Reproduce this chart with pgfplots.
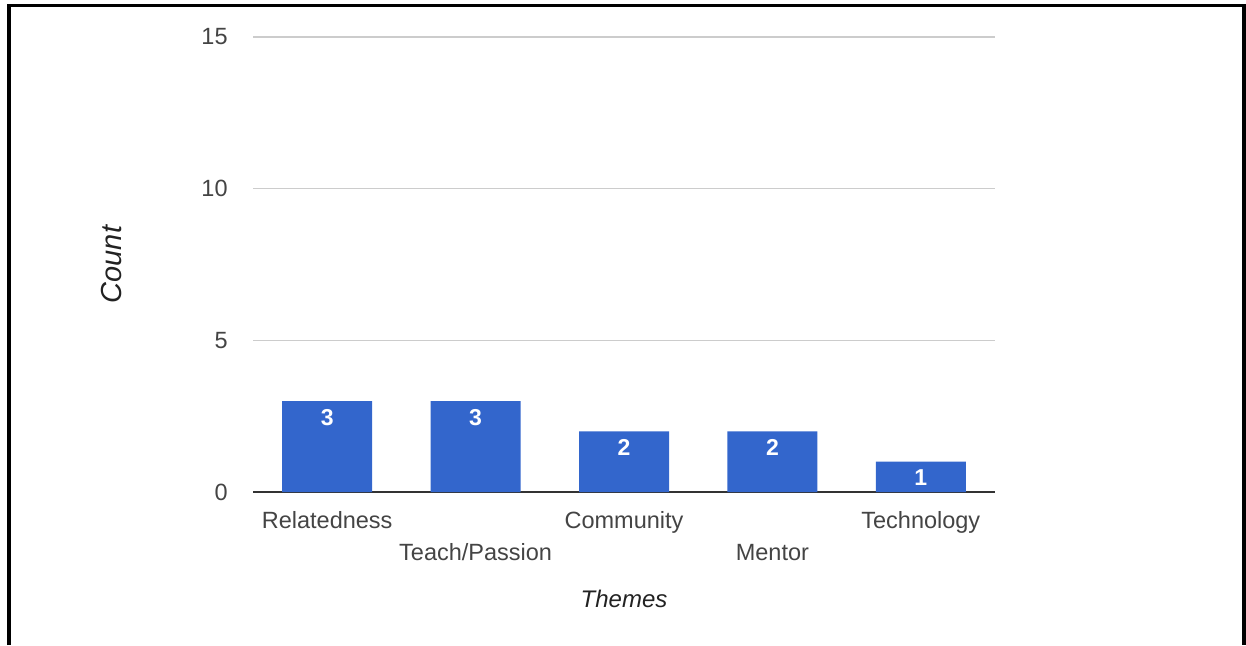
\documentclass[border=0pt]{standalone}
\usepackage{fontspec}
\setmainfont{Liberation Sans}
\usepackage{pgfplots}
\pgfplotsset{compat=1.18}
\definecolor{barblue}{HTML}{3366CC}
\definecolor{gridgray}{HTML}{CCCCCC}
\definecolor{ticklab}{HTML}{444444}
\definecolor{axisline}{HTML}{333333}
\definecolor{titlecol}{HTML}{222222}
\begin{document}
\begin{tikzpicture}
\useasboundingbox (0,0) rectangle (623pt,322.5pt);
\draw[line width=1.65pt] (4.5pt,0) -- (4.5pt,319.65pt) -- (622pt,319.65pt) -- (622pt,0);
\begin{axis}[
  at={(126.5pt,76.5pt)}, anchor=south west,
  scale only axis, width=371pt, height=227.5pt,
  xmin=-0.5, xmax=4.5, ymin=0, ymax=15,
  ytick={0,5,10,15}, xtick={0,1,2,3,4},
  xticklabels={Relatedness,\raisebox{-16pt}{Teach/Passion},Community,\raisebox{-16pt}{Mentor},Technology},
  axis x line=bottom, axis y line=left,
  x axis line style={-, draw=axisline, line width=0.9pt},
  y axis line style={draw=none},
  major tick length=0pt,
  ymajorgrids, grid style={draw=gridgray, line width=0.6pt},
  /pgf/number format/assume math mode=true,
  xticklabel style={inner sep=0pt, text height=18.25pt, text depth=0pt, anchor=north, text=ticklab, font=\fontsize{11.75}{14}\selectfont},
  yticklabel style={anchor=east, inner sep=0pt, xshift=-12.5pt, text=ticklab, font=\fontsize{11.75}{14}\selectfont},
  ylabel={Count}, xlabel={Themes},
  ylabel style={at={(axis description cs:-0.1907,0.5)}, anchor=center, font=\fontsize{14.5}{17}\selectfont\itshape, text=titlecol},
  xlabel style={at={(axis description cs:0.5,-0.2352)}, anchor=center, font=\fontsize{12}{14}\selectfont\itshape, text=titlecol},
  ybar, bar width=45pt,
  nodes near coords,
  every node near coord/.append style={anchor=north, inner ysep=4pt, text=white, font=\fontsize{11.5}{13}\selectfont\bfseries},
  clip=false,
]
\addplot[fill=barblue, draw=none] coordinates {(0,3) (1,3) (2,2) (3,2) (4,1)};
\end{axis}
\end{tikzpicture}
\end{document}
